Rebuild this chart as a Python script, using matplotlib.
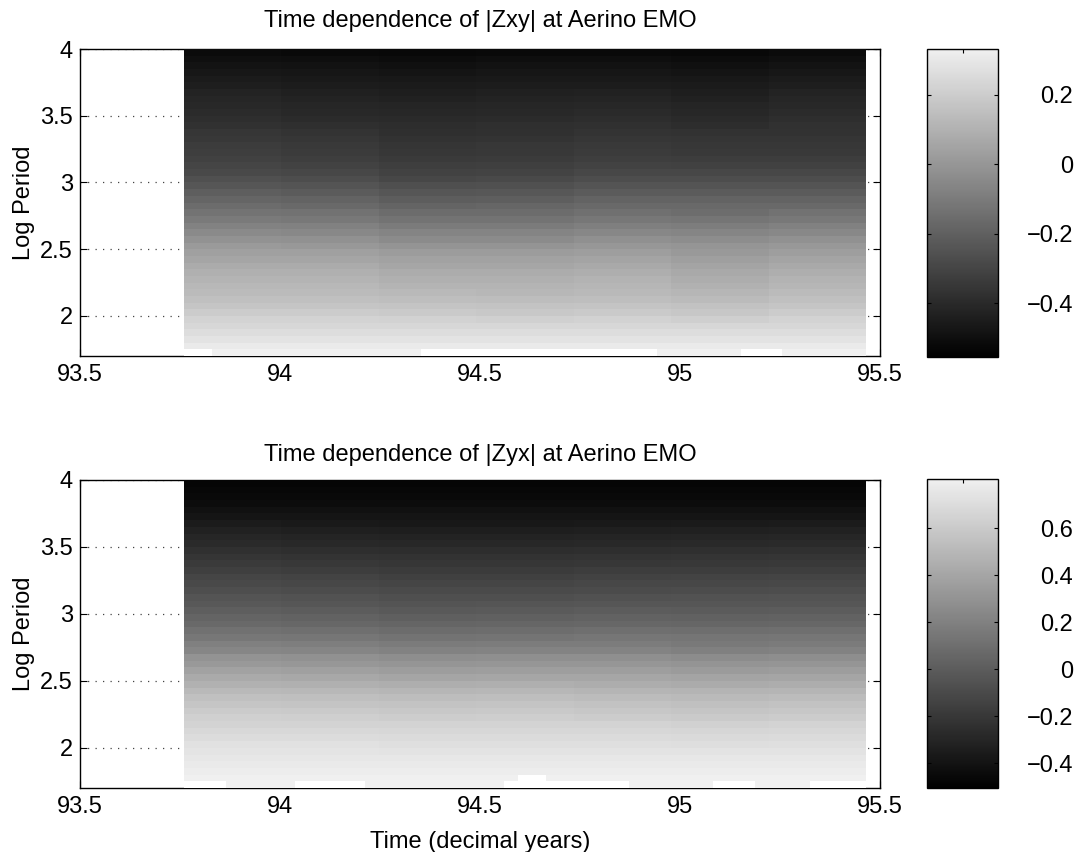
import numpy as np
import matplotlib
matplotlib.use('Agg')
import matplotlib.pyplot as plt
from matplotlib.colors import LinearSegmentedColormap
from matplotlib.ticker import FuncFormatter

plt.rcParams['font.family'] = ['Liberation Sans', 'DejaVu Sans']
plt.rcParams['font.size'] = 17

# ---------------- data ----------------
titles = ['Time dependence of |Zxy| at Aerino EMO',
          'Time dependence of |Zyx| at Aerino EMO']
xlabel = 'Time (decimal years)'
ylabel = 'Log Period'

time_first, time_last, n_times = 93.76, 95.465, 49        # sample time span (decimal years)
logp_first, logp_last, n_periods = 1.70, 4.00, 46         # log-period bin span

# row profile (bottom -> top, log period 1.725 ... 3.975)
zxy_profile = [0.331, 0.309, 0.283, 0.261, 0.239, 0.217, 0.191, 0.169, 0.147, 0.128,
               0.114, 0.099, 0.084, 0.066, 0.047, 0.025, -0.001, -0.030, -0.060, -0.089,
               -0.119, -0.145, -0.170, -0.196, -0.222, -0.248, -0.274, -0.296, -0.314, -0.329,
               -0.340, -0.347, -0.359, -0.370, -0.381, -0.392, -0.403, -0.414, -0.425, -0.436,
               -0.447, -0.458, -0.473, -0.488, -0.502, -0.517]
zyx_profile = [0.809, 0.804, 0.793, 0.776, 0.760, 0.738, 0.716, 0.694, 0.672, 0.645,
               0.617, 0.590, 0.562, 0.530, 0.491, 0.447, 0.404, 0.360, 0.316, 0.276,
               0.212, 0.173, 0.135, 0.097, 0.058, 0.025, -0.007, -0.035, -0.062, -0.090,
               -0.117, -0.144, -0.172, -0.199, -0.227, -0.254, -0.281, -0.309, -0.336, -0.364,
               -0.391, -0.413, -0.435, -0.451, -0.468, -0.479]

# departures by period band (bottom -> top) and time group (7 groups of 7 samples)
band_rows = [5, 5, 6, 6, 6, 6, 6, 6]
group_cols = [7, 7, 7, 7, 7, 7, 7]
zxy_anom = [[0.000, 0.000, 0.000, 0.000, 0.000, 0.000, 0.000],
            [0.006, 0.006, 0.000, -0.006, 0.000, -0.010, 0.006],
            [0.010, 0.010, -0.005, -0.005, 0.005, -0.015, 0.005],
            [0.015, 0.010, -0.010, -0.010, 0.005, -0.005, 0.010],
            [0.015, 0.005, -0.015, -0.010, 0.005, 0.005, 0.005],
            [0.015, 0.005, -0.010, -0.005, 0.005, 0.000, 0.000],
            [0.010, 0.000, -0.005, 0.000, 0.005, -0.005, 0.010],
            [0.005, 0.000, -0.005, 0.000, 0.000, -0.005, 0.005]]
zyx_anom = [[0.000, 0.000, 0.000, 0.000, 0.000, 0.000, 0.000],
            [0.006, 0.006, 0.000, 0.000, 0.000, -0.006, 0.000],
            [0.015, 0.010, 0.000, 0.005, -0.005, -0.015, -0.005],
            [0.020, 0.010, -0.005, 0.000, 0.000, -0.015, -0.005],
            [0.015, 0.005, -0.010, -0.005, 0.005, 0.000, 0.005],
            [0.015, 0.005, -0.010, -0.010, 0.000, 0.005, 0.010],
            [0.010, 0.000, -0.005, -0.005, 0.000, 0.005, 0.010],
            [0.000, 0.000, 0.000, 0.000, 0.000, 0.000, 0.000]]

# lowest valid period bin for each time sample
zxy_first_row = [1, 1, 0, 0, 0, 0, 0, 0, 0, 0, 0, 0, 0, 0, 0, 0, 0, 1, 1, 1,
                 1, 1, 1, 1, 1, 1, 1, 1, 1, 1, 1, 1, 1, 1, 0, 0, 0, 0, 0, 0,
                 1, 1, 1, 0, 0, 0, 0, 0, 0]
zyx_first_row = [1, 1, 1, 0, 0, 0, 0, 0, 1, 1, 1, 1, 1, 0, 0, 0, 0, 0, 0, 0,
                 0, 0, 0, 1, 2, 2, 1, 1, 1, 1, 1, 1, 0, 0, 0, 0, 0, 0, 1, 1,
                 1, 0, 0, 0, 0, 1, 1, 1, 1]

zxy_clim = (-0.554, 0.331)
zyx_clim = (-0.506, 0.809)
zxy_cticks = [-0.4, -0.2, 0, 0.2]
zyx_cticks = [-0.4, -0.2, 0, 0.2, 0.4, 0.6]
xticks = [93.5, 94, 94.5, 95, 95.5]
yticks = [2, 2.5, 3, 3.5, 4]


def build(profile, anom, first_row):
    prof = np.asarray(profile)[:, None]
    an = np.repeat(np.repeat(np.asarray(anom), band_rows, axis=0), group_cols, axis=1)
    z = prof + an
    rows = np.arange(len(profile))[:, None]
    mask = rows < np.asarray(first_row)[None, :]
    return np.ma.masked_array(z, mask=mask)


time_edges = np.linspace(time_first, time_last, n_times + 1)
logp_edges = np.linspace(logp_first, logp_last, n_periods + 1)

cmap = LinearSegmentedColormap.from_list('mgray', [(0, 0, 0), (0.94, 0.94, 0.94)], N=256)
cmap.set_bad('white')

W, H = 1080, 852
fig = plt.figure(figsize=(W / 100, H / 100), dpi=100)


def rect(x0, y0, x1, y1):
    return [x0 / W, 1 - y1 / H, (x1 - x0) / W, (y1 - y0) / H]


def fmt(v, _):
    s = '%g' % round(v, 3)
    if s in ('-0', '0'):
        return '0'
    return s.replace('-', '\u2212')


panels = [
    dict(z=build(zxy_profile, zxy_anom, zxy_first_row), clim=zxy_clim, cticks=zxy_cticks,
         title=titles[0], ax=rect(80, 49, 880, 356), cax=rect(927, 49, 998, 357), tpad=16, xl=False),
    dict(z=build(zyx_profile, zyx_anom, zyx_first_row), clim=zyx_clim, cticks=zyx_cticks,
         title=titles[1], ax=rect(80, 480, 880, 788), cax=rect(927, 479, 998, 788), tpad=14, xl=True),
]

for p in panels:
    ax = fig.add_axes(p['ax'])
    m = ax.pcolormesh(time_edges, logp_edges, p['z'], cmap=cmap,
                      vmin=p['clim'][0], vmax=p['clim'][1], shading='flat', zorder=3,
                      clip_on=False)
    ax.set_xlim(93.5, 95.5)
    ax.set_ylim(1.7, 4.0)
    ax.set_xticks(xticks)
    ax.set_xticklabels(['93.5', '94', '94.5', '95', '95.5'])
    ax.set_yticks(yticks)
    ax.set_yticklabels(['2', '2.5', '3', '3.5', '4'])
    ax.tick_params(direction='in', length=5, width=0.8, top=True, right=True, pad=5)
    ax.tick_params(axis='x', pad=6)
    ax.yaxis.grid(True, linestyle=(0, (1, 5)), color='#444444', linewidth=0.9)
    for s in ax.spines.values():
        s.set_linewidth(1.0)
    ax.set_title(p['title'], pad=p['tpad'], fontsize=17)
    ax.set_ylabel(ylabel, labelpad=4)
    if p['xl']:
        ax.set_xlabel(xlabel, labelpad=9)

    cax = fig.add_axes(p['cax'])
    cb = fig.colorbar(m, cax=cax)
    cb.outline.set_linewidth(1.0)
    cb.set_ticks(p['cticks'])
    cax.yaxis.set_major_formatter(FuncFormatter(fmt))
    cax.yaxis.set_ticks_position('both')
    cax.tick_params(axis='y', direction='in', length=3, width=0.8, left=True, right=True,
                    labelleft=False, labelright=True, pad=54)
    for lab in cax.get_yticklabels():
        lab.set_horizontalalignment('right')
    cax.set_xticks([0.5])
    cax.set_xticklabels([])
    cax.tick_params(axis='x', direction='in', length=3, width=0.8, top=True, bottom=False,
                    labeltop=False, labelbottom=False)

fig.savefig('out.png', dpi=100)
